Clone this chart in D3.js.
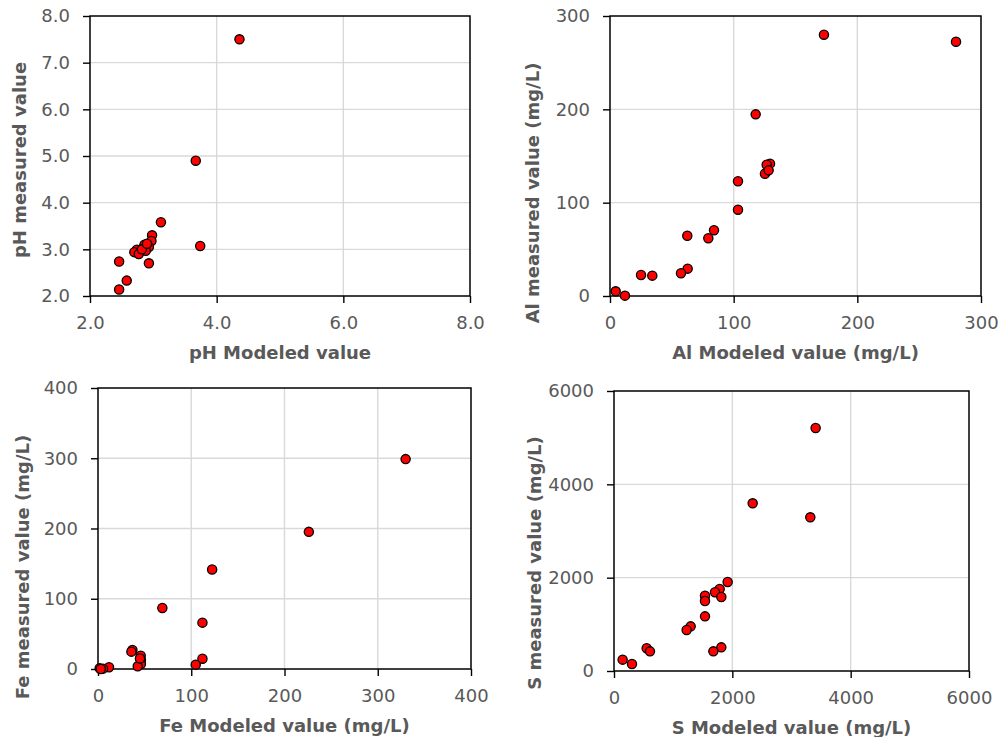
<!DOCTYPE html>
<html>
<head>
<meta charset="utf-8">
<script src="https://cdn.jsdelivr.net/npm/d3@7"></script>
<style>
  html, body { margin: 0; padding: 0; background: #ffffff; }
  svg { display: block; }
</style>
</head>
<body>
<svg id="chart" width="1003" height="737"></svg>
<script>
// ---------- DATA ----------
const phModeled  = [4.36, 3.67, 3.12, 3.74, 2.98, 2.97, 2.86, 2.93, 2.88, 2.74, 2.70, 2.77, 2.93, 2.46, 2.58, 2.46, 2.82, 2.90];
const phMeasured = [7.50, 4.90, 3.58, 3.07, 3.30, 3.18, 3.10, 3.05, 2.97, 2.99, 2.94, 2.90, 2.70, 2.74, 2.33, 2.14, 3.00, 3.12];

const alModeled  = [173, 279.8, 117.8, 129.4, 126.7, 125.3, 128.3, 103.5, 103.5, 84.1, 79.5, 62.5, 62.8, 57.4, 25.1, 34.2, 4.6, 12.1];
const alMeasured = [280, 272.5, 194.6, 141.8, 140.7, 131.0, 134.6, 122.9, 92.5, 70.4, 61.8, 64.6, 29.3, 24.3, 22.5, 21.8, 5.0, 0.4];

const feModeled  = [329.9, 226.1, 122.4, 69.0, 112.0, 112.0, 104.8, 36.9, 35.8, 45.8, 46.0, 46.0, 42.6, 11.8, 1.8, 5.4, 45.0, 3.0];
const feMeasured = [298.8, 195.2, 141.6, 86.9, 66.0, 14.7, 6.2, 27.0, 24.7, 19.0, 12.8, 7.0, 3.8, 2.4, 1.0, 0.5, 15.0, 0.0];

const sModeled  = [3408, 2344, 3318, 1921, 1786, 1707, 1814, 1538, 1538, 1538, 1296, 1228, 1814, 1679, 552, 608, 146, 304];
const sMeasured = [5207, 3593, 3293, 1907, 1757, 1686, 1586, 1614, 1500, 1171, 957, 879, 507, 421, 486, 421, 243, 150];

const phTicksX = [2, 4, 6, 8];
const phTicksY = [2, 3, 4, 5, 6, 7, 8];
const alTicks  = [0, 100, 200, 300];
const feTicks  = [0, 100, 200, 300, 400];
const sTicks   = [0, 2000, 4000, 6000];

const xTitles = ["pH Modeled value", "Al Modeled value (mg/L)", "Fe Modeled value (mg/L)", "S Modeled value (mg/L)"];
const yTitles = ["pH measured value", "Al measured value (mg/L)", "Fe measured value (mg/L)", "S measured value (mg/L)"];

// ---------- LAYOUT ----------
const panels = [
  { xs: phModeled, ys: phMeasured, xt: phTicksX, yt: phTicksY, fmt: d3.format(".1f"),
    left: 90, right: 470, top: 16, bottom: 296, xTitle: xTitles[0], yTitle: yTitles[0],
    yTitleX: 19, yTitleY: 160, xTitleY: 352 },
  { xs: alModeled, ys: alMeasured, xt: alTicks, yt: alTicks, fmt: d3.format("d"),
    left: 610, right: 981, top: 16, bottom: 296, xTitle: xTitles[1], yTitle: yTitles[1],
    yTitleX: 532, yTitleY: 193, xTitleY: 352 },
  { xs: feModeled, ys: feMeasured, xt: feTicks, yt: feTicks, fmt: d3.format("d"),
    left: 98, right: 471, top: 388, bottom: 669, xTitle: xTitles[2], yTitle: yTitles[2],
    yTitleX: 22, yTitleY: 567, xTitleY: 725 },
  { xs: sModeled, ys: sMeasured, xt: sTicks, yt: sTicks, fmt: d3.format("d"),
    left: 614, right: 969, top: 391, bottom: 671, xTitle: xTitles[3], yTitle: yTitles[3],
    yTitleX: 534, yTitleY: 563, xTitleY: 727 }
];

const svg = d3.select("#chart");
svg.append("rect").attr("width", 1003).attr("height", 737).attr("fill", "#ffffff");

const textColor = "#595959";
const gridColor = "#d9d9d9";
const fontFam = "'DejaVu Sans', Verdana, sans-serif";

panels.forEach(p => {
  const x = d3.scaleLinear().domain([p.xt[0], p.xt[p.xt.length - 1]]).range([p.left, p.right]);
  const y = d3.scaleLinear().domain([p.yt[0], p.yt[p.yt.length - 1]]).range([p.bottom, p.top]);
  const g = svg.append("g");

  // grid
  g.selectAll(".vg").data(p.xt.slice(1, -1)).join("line")
    .attr("x1", d => x(d)).attr("x2", d => x(d))
    .attr("y1", p.top).attr("y2", p.bottom)
    .attr("stroke", gridColor).attr("stroke-width", 1.4);
  g.selectAll(".hg").data(p.yt.slice(1, -1)).join("line")
    .attr("y1", d => y(d)).attr("y2", d => y(d))
    .attr("x1", p.left).attr("x2", p.right)
    .attr("stroke", gridColor).attr("stroke-width", 1.4);

  // axes
  const xAxis = g.append("g").attr("transform", `translate(0,${p.bottom})`)
    .call(d3.axisBottom(x).tickValues(p.xt).tickFormat(p.fmt).tickSize(7).tickPadding(13));
  const yAxis = g.append("g").attr("transform", `translate(${p.left},0)`)
    .call(d3.axisLeft(y).tickValues(p.yt).tickFormat(p.fmt).tickSize(7).tickPadding(13));
  [xAxis, yAxis].forEach(a => {
    a.select(".domain").remove();
    a.selectAll(".tick line").attr("stroke", "#000").attr("stroke-width", 1.4);
    a.selectAll(".tick text").attr("fill", textColor)
      .style("font-family", fontFam).style("font-size", "18px");
  });

  // frame
  g.append("rect").attr("x", p.left).attr("y", p.top)
    .attr("width", p.right - p.left).attr("height", p.bottom - p.top)
    .attr("fill", "none").attr("stroke", "#000").attr("stroke-width", 1.5);

  // points
  const pts = p.xs.map((v, i) => ({ x: v, y: p.ys[i] }));
  g.selectAll(".pt").data(pts).join("circle")
    .attr("cx", d => x(d.x)).attr("cy", d => y(d.y)).attr("r", 4.6)
    .attr("fill", "#ff0000").attr("stroke", "#000").attr("stroke-width", 1.3);

  // titles
  g.append("text").attr("x", (p.left + p.right) / 2).attr("y", p.xTitleY)
    .attr("text-anchor", "middle").attr("dominant-baseline", "central")
    .attr("fill", textColor).style("font-family", fontFam)
    .style("font-size", "18px").style("font-weight", "bold").text(p.xTitle);
  g.append("text").attr("transform", `translate(${p.yTitleX},${p.yTitleY}) rotate(-90)`)
    .attr("text-anchor", "middle").attr("dominant-baseline", "central")
    .attr("fill", textColor).style("font-family", fontFam)
    .style("font-size", "18px").style("font-weight", "bold").text(p.yTitle);
});
</script>
</body>
</html>
